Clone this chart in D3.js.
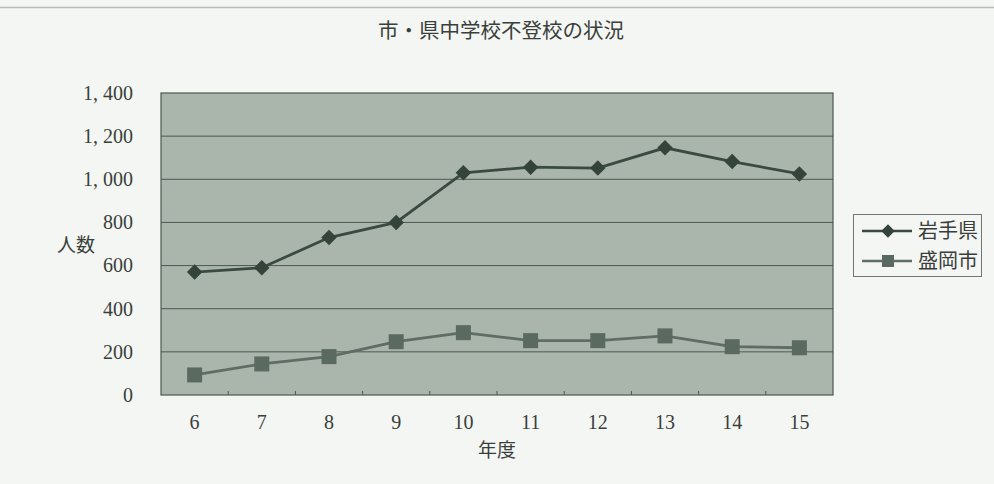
<!DOCTYPE html>
<html><head><meta charset="utf-8">
<script src="https://cdn.jsdelivr.net/npm/d3@7"></script>
<style>
html,body{margin:0;padding:0;background:#f4f6f3;}
svg{display:block;}
</style></head>
<body>
<svg id="chart" width="994" height="484"></svg>
<script>
const categories = ["6","7","8","9","10","11","12","13","14","15"];
const iwate = [570, 590, 730, 800, 1030, 1056, 1052, 1146, 1082, 1025];
const morioka = [93, 144, 178, 247, 289, 252, 252, 274, 224, 219];
const yTicks = [0, 200, 400, 600, 800, 1000, 1200, 1400];
const seriesNames = ["岩手県", "盛岡市"];
const title = "市・県中学校不登校の状況";
const yLabel = "人数";
const xLabel = "年度";

const svg = d3.select("#chart");
const W = 994, H = 484;
const plot = {left: 161, right: 833, top: 93, bottom: 395};

svg.append("rect").attr("width", W).attr("height", H).attr("fill", "#f4f6f3");
svg.append("line").attr("x1", 0).attr("x2", W).attr("y1", 7.5).attr("y2", 7.5)
  .attr("stroke", "#b8bdb8").attr("stroke-width", 1.5);

const x = d3.scaleBand().domain(categories).range([plot.left, plot.right]);
const y = d3.scaleLinear().domain([0, 1400]).range([plot.bottom, plot.top]);

const serif = "'Liberation Serif','DejaVu Serif',serif";
const cjk = "'Noto Sans CJK JP','Noto Sans CJK SC',sans-serif";
const textCol = "#3a3f3b";

svg.append("rect").attr("x", plot.left).attr("y", plot.top)
  .attr("width", plot.right - plot.left).attr("height", plot.bottom - plot.top)
  .attr("fill", "#aab5ac");

// gridlines
svg.append("g").selectAll("line").data(yTicks.filter(d => d > 0 && d < 1400)).join("line")
  .attr("x1", plot.left).attr("x2", plot.right)
  .attr("y1", d => y(d)).attr("y2", d => y(d))
  .attr("stroke", "#4c5850").attr("stroke-width", 1);

svg.append("rect").attr("x", plot.left).attr("y", plot.top)
  .attr("width", plot.right - plot.left).attr("height", plot.bottom - plot.top)
  .attr("fill", "none").attr("stroke", "#4c5850").attr("stroke-width", 1.2);

// y axis
const yAxis = d3.axisLeft(y).tickValues(yTicks).tickSize(0).tickPadding(28)
  .tickFormat(d3.format(","));
const gy = svg.append("g").attr("transform", `translate(${plot.left},0)`).call(yAxis);
gy.select(".domain").remove();
gy.selectAll("text").attr("font-family", serif).attr("font-size", 20).attr("fill", textCol)
  .text(d => d3.format(",")(d).replace(",", ", "));

// x axis
const xAxis = d3.axisBottom(x).tickSize(0).tickPadding(20);
const gx = svg.append("g").attr("transform", `translate(0,${plot.bottom})`).call(xAxis);
gx.select(".domain").remove();
gx.selectAll("text").attr("font-family", serif).attr("font-size", 20).attr("fill", textCol);
// category separator ticks
svg.append("g").selectAll("line").data(categories.slice(1)).join("line")
  .attr("x1", d => x(d)).attr("x2", d => x(d))
  .attr("y1", plot.bottom - 4).attr("y2", plot.bottom)
  .attr("stroke", "#4c5850");

// lines
const line = d3.line().x((d, i) => x(categories[i]) + x.bandwidth() / 2).y(d => y(d));
svg.append("path").datum(iwate).attr("d", line).attr("fill", "none")
  .attr("stroke", "#3b4a41").attr("stroke-width", 2.8);
svg.append("path").datum(morioka).attr("d", line).attr("fill", "none")
  .attr("stroke", "#5f6d64").attr("stroke-width", 2.8);

svg.append("g").selectAll("path").data(iwate).join("path")
  .attr("d", d3.symbol().type(d3.symbolSquare).size(120)())
  .attr("transform", (d, i) => `translate(${x(categories[i]) + x.bandwidth() / 2},${y(d)}) rotate(45)`)
  .attr("fill", "#34443a");
svg.append("g").selectAll("rect").data(morioka).join("rect")
  .attr("x", (d, i) => x(categories[i]) + x.bandwidth() / 2 - 7.5)
  .attr("y", d => y(d) - 7.5)
  .attr("width", 15).attr("height", 15)
  .attr("fill", "#5b6a61");

// title and axis labels
svg.append("text").attr("x", 501).attr("y", 38).attr("text-anchor", "middle")
  .attr("font-family", cjk).attr("font-size", 20.5).attr("fill", textCol).text(title);
svg.append("text").attr("x", 76).attr("y", 252).attr("text-anchor", "middle")
  .attr("font-family", cjk).attr("font-size", 19).attr("fill", textCol).text(yLabel);
svg.append("text").attr("x", 497).attr("y", 457).attr("text-anchor", "middle")
  .attr("font-family", cjk).attr("font-size", 19).attr("fill", textCol).text(xLabel);

// legend
const lg = svg.append("g");
lg.append("rect").attr("x", 853.5).attr("y", 214.5).attr("width", 128).attr("height", 62)
  .attr("fill", "#f4f6f3").attr("stroke", "#6f7771").attr("stroke-width", 1);
seriesNames.forEach((name, i) => {
  const cy = 231 + i * 30;
  lg.append("line").attr("x1", 862).attr("x2", 912).attr("y1", cy).attr("y2", cy)
    .attr("stroke", i === 0 ? "#3b4a41" : "#5f6d64").attr("stroke-width", 2.5);
  if (i === 0) {
    lg.append("path").attr("d", d3.symbol().type(d3.symbolSquare).size(90)())
      .attr("transform", `translate(888,${cy}) rotate(45)`).attr("fill", "#34443a");
  } else {
    lg.append("rect").attr("x", 882).attr("y", cy - 6).attr("width", 12).attr("height", 12)
      .attr("fill", "#5b6a61");
  }
  lg.append("text").attr("x", 918).attr("y", cy + 7).attr("font-family", cjk)
    .attr("font-size", 20).attr("fill", textCol).text(name);
});
</script>
</body></html>
